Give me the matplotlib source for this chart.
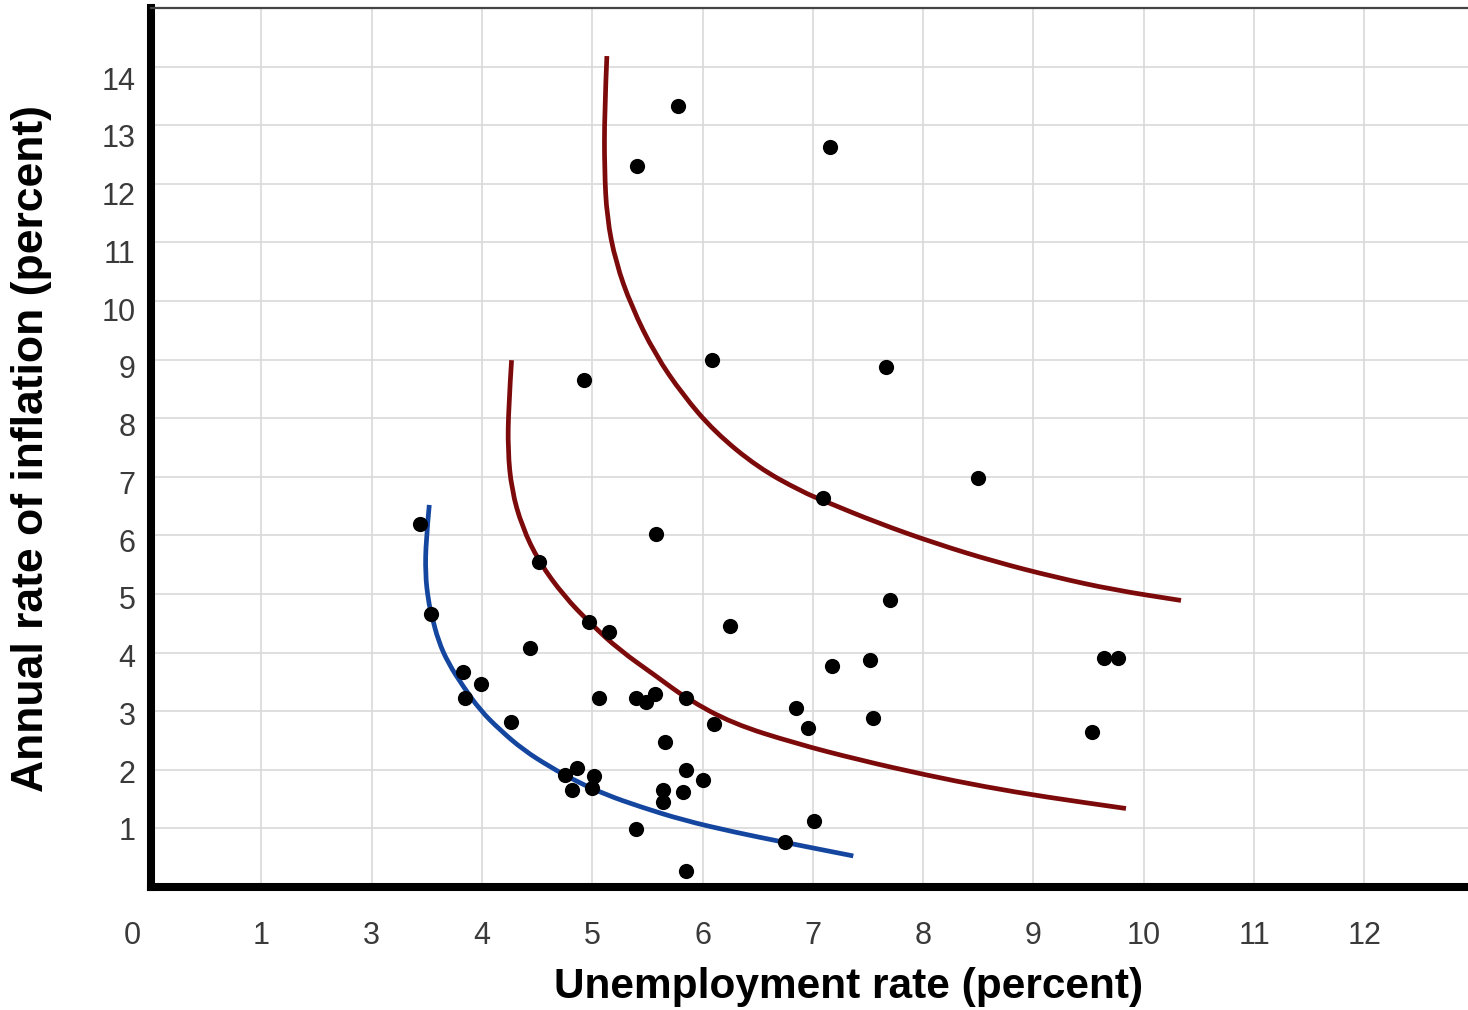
import matplotlib
matplotlib.use("Agg")
import matplotlib.pyplot as plt
import matplotlib.transforms as mtransforms
from matplotlib.path import Path
from matplotlib.patches import PathPatch

plt.rcParams['font.family'] = ['Liberation Sans', 'DejaVu Sans']

# ---- data ----
unemployment = [3.44, 3.54, 3.83, 3.85, 3.99, 4.26, 4.44, 4.52, 4.93, 4.97,
                5.15, 5.06, 4.75, 4.86, 4.82, 5.02, 5.00, 5.40, 5.41, 5.78,
                5.40, 5.49, 5.57, 5.58, 5.85, 5.66, 5.64, 5.64, 5.85, 5.82,
                6.00, 5.85, 6.09, 6.10, 6.25, 6.75, 6.85, 6.96, 7.01, 7.09,
                7.16, 7.17, 7.52, 7.55, 7.66, 7.70, 8.50, 9.53, 9.64, 9.77]
inflation = [6.20, 4.66, 3.67, 3.23, 3.47, 2.82, 4.08, 5.55, 8.66, 4.52,
             4.35, 3.23, 1.91, 2.03, 1.66, 1.90, 1.69, 0.99, 12.31, 13.33,
             3.23, 3.16, 3.30, 6.03, 3.23, 2.48, 1.66, 1.45, 2.00, 1.62,
             1.83, 0.27, 9.00, 2.78, 4.46, 0.77, 3.06, 2.71, 1.13, 6.64,
             12.63, 3.77, 3.88, 2.89, 8.88, 4.90, 6.98, 2.65, 3.91, 3.91]

blue_x = [3.523, 3.493, 3.487, 3.514, 3.545, 3.605, 3.695, 3.831, 3.983, 4.164,
          4.375, 4.617, 4.859, 5.131, 5.433, 5.826, 6.279, 6.748, 7.367]
blue_y = [6.52, 5.92, 5.34, 4.89, 4.63, 4.20, 3.82, 3.42, 3.02, 2.68,
          2.34, 2.05, 1.80, 1.57, 1.37, 1.14, 0.94, 0.76, 0.53]

red1_x = [4.269, 4.242, 4.235, 4.269, 4.364, 4.517, 4.746, 4.983, 5.242, 5.586,
          5.852, 6.272, 6.845, 7.417, 8.027, 8.561, 9.096, 9.839]
red1_y = [8.99, 8.20, 7.46, 6.78, 6.15, 5.55, 4.96, 4.50, 4.05, 3.59,
          3.22, 2.79, 2.45, 2.17, 1.91, 1.71, 1.54, 1.34]

red2_x = [5.133, 5.111, 5.111, 5.133, 5.212, 5.355, 5.570, 5.821, 6.108, 6.502,
          6.897, 7.112, 7.578, 8.116, 8.654, 9.191, 9.729, 10.338]
red2_y = [14.18, 13.20, 12.25, 11.43, 10.67, 9.91, 9.09, 8.40, 7.77, 7.16,
          6.75, 6.58, 6.22, 5.86, 5.55, 5.29, 5.07, 4.89]

x_tick_pos = [2, 3, 4, 5, 6, 7, 8, 9, 10, 11, 12]
x_tick_labels = ['1', '3', '4', '5', '6', '7', '8', '9', '10', '11', '12']
y_ticks = list(range(1, 15))


def smooth_path(xs, ys):
    """Quadratic-Bezier path through the midpoints of the read points."""
    verts = [(xs[0], ys[0])]
    codes = [Path.MOVETO]
    for i in range(1, len(xs) - 1):
        mx = (xs[i] + xs[i + 1]) / 2.0
        my = (ys[i] + ys[i + 1]) / 2.0
        verts += [(xs[i], ys[i]), (mx, my)]
        codes += [Path.CURVE3, Path.CURVE3]
    verts.append((xs[-1], ys[-1]))
    codes.append(Path.LINETO)
    return Path(verts, codes)


# ---- figure ----
W, H = 1468, 1010
fig = plt.figure(figsize=(W / 100, H / 100), dpi=100)
ax = fig.add_axes([151 / W, (H - 887) / H, (W - 151) / W, (887 - 8) / H])

ax.set_xlim(1.0, 12.94)
ax.set_ylim(0, 15.0)

ax.set_xticks(x_tick_pos)
ax.set_xticklabels(x_tick_labels)
ax.set_yticks(y_ticks)
ax.set_yticklabels([str(v) for v in y_ticks])

ax.grid(True, color='#d9d9d9', linewidth=1.2, zorder=0)
ax.set_axisbelow(True)

tick_color = '#3a3a3a'
ax.tick_params(axis='x', length=0, pad=24.5, labelsize=22, labelcolor=tick_color)
ax.tick_params(axis='y', length=0, pad=11, labelsize=22, labelcolor=tick_color)

# y labels sit progressively a little below their gridlines in the original
for k, lab in zip(y_ticks, ax.get_yticklabels()):
    shift = (0.5 + 0.85 * (k - 1)) / 100.0
    lab.set_transform(lab.get_transform() +
                      mtransforms.ScaledTranslation(0, -shift, fig.dpi_scale_trans))

# the "0" label at the origin, left of the axis
trans0 = mtransforms.blended_transform_factory(ax.transData, ax.transAxes) + \
    mtransforms.ScaledTranslation(0, -24.5 / 72, fig.dpi_scale_trans)
ax.text(0.83, 0, '0', transform=trans0, ha='center', va='top',
        fontsize=22, color=tick_color, clip_on=False)

for side in ['left', 'bottom']:
    ax.spines[side].set_linewidth(5.8)
    ax.spines[side].set_color('black')
    ax.spines[side].set_capstyle('projecting')
ax.spines['top'].set_linewidth(1.6)
ax.spines['top'].set_color('#444444')
ax.spines['right'].set_visible(False)

# curves
for xs, ys, col in [(red2_x, red2_y, '#7d0a0a'),
                    (red1_x, red1_y, '#7d0a0a'),
                    (blue_x, blue_y, '#1446a0')]:
    ax.add_patch(PathPatch(smooth_path(xs, ys), facecolor='none', edgecolor=col,
                           linewidth=3.4, capstyle='butt', joinstyle='round',
                           zorder=3))

# points
ax.scatter(unemployment, inflation, s=120, color='black', zorder=4, linewidths=0)

# axis titles
fig.text(849 / W, 1 - 987 / H, 'Unemployment rate (percent)', ha='center',
         va='center', fontsize=30.5, fontweight='bold', color='black')
fig.text(32 / W, 1 - 448 / H, 'Annual rate of inflation (percent)', ha='center',
         va='center', fontsize=32, fontweight='bold', color='black', rotation=90)

fig.savefig('out.png', dpi=100)
